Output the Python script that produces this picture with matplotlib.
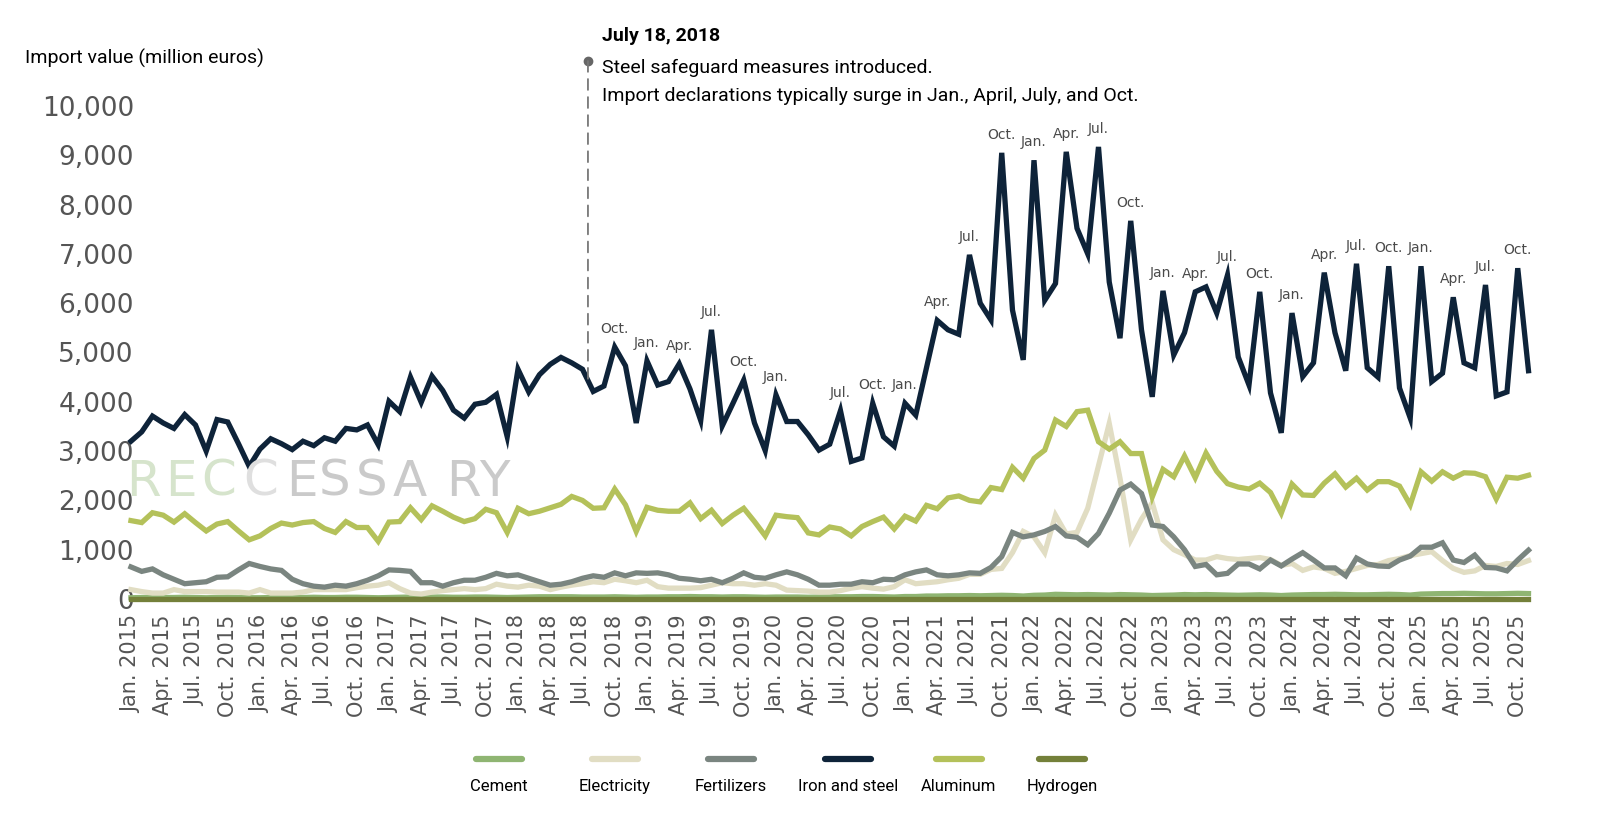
import numpy as np
import pandas as pd
import matplotlib
matplotlib.use("Agg")
import matplotlib.pyplot as plt
from matplotlib.lines import Line2D
from matplotlib.transforms import blended_transform_factory

W, H = 1600, 821

# monthly import values, million euros, Jan. 2015 - Nov. 2025
months = pd.date_range("2015-01-01", "2025-11-01", freq="MS")

iron_steel = [
    3200, 3390, 3710, 3570, 3460, 3740, 3530, 3000, 3640, 3590, 3150, 2690,
    3040, 3250, 3150, 3030, 3200, 3110, 3270, 3200, 3460, 3430, 3530, 3130,
    4010, 3800, 4500, 3990, 4520, 4230, 3830, 3670, 3950, 3990, 4150, 3290,
    4660, 4200, 4550, 4760, 4900, 4790, 4660, 4210, 4320, 5110, 4730, 3570,
    4830, 4340, 4410, 4770, 4260, 3620, 5460, 3510, 3970, 4440, 3570, 3010,
    4140, 3600, 3600, 3330, 3020, 3140, 3820, 2790, 2860, 3970, 3290, 3100,
    3970, 3730, 4690, 5650, 5460, 5370, 6980, 6000, 5660, 9050, 5860, 4850,
    8900, 6060, 6400, 9070, 7520, 7000, 9170, 6430, 5290, 7670, 5460, 4100,
    6250, 4950, 5400, 6230, 6330, 5800, 6570, 4910, 4340, 6230, 4180, 3370,
    5800, 4510, 4790, 6620, 5400, 4630, 6800, 4690, 4500, 6750, 4280, 3670,
    6750, 4410, 4580, 6120, 4790, 4690, 6370, 4120, 4200, 6710, 4630,
]

aluminum = [
    1590, 1550, 1750, 1700, 1560, 1730, 1550, 1380, 1520, 1570, 1380, 1200,
    1280, 1430, 1540, 1500, 1550, 1570, 1430, 1350, 1570, 1450, 1450, 1170,
    1560, 1570, 1850, 1610, 1890, 1780, 1660, 1570, 1630, 1820, 1750, 1350,
    1840, 1730, 1780, 1850, 1920, 2080, 2000, 1840, 1850, 2230, 1910, 1370,
    1860, 1800, 1780, 1780, 1950, 1630, 1800, 1530, 1700, 1840, 1570, 1280,
    1700, 1670, 1650, 1340, 1300, 1460, 1420, 1280, 1470, 1570, 1660, 1420,
    1680, 1580, 1900, 1830, 2050, 2090, 2000, 1970, 2260, 2220, 2670, 2450,
    2850, 3020, 3630, 3500, 3800, 3830, 3190, 3040, 3190, 2950, 2950, 2070,
    2630, 2480, 2900, 2460, 2960, 2590, 2340, 2270, 2230, 2350, 2160, 1740,
    2330, 2110, 2100, 2350, 2540, 2270, 2450, 2210, 2380, 2380, 2290, 1910,
    2580, 2390, 2580, 2450, 2560, 2550, 2480, 2030, 2470, 2450, 2510,
]

fertilizers = [
    650, 560, 610, 490, 400, 310, 330, 350, 440, 450, 590, 720,
    660, 610, 580, 400, 310, 260, 240, 280, 260, 310, 380, 470,
    590, 580, 560, 330, 330, 260, 330, 380, 380, 440, 520, 470,
    490, 420, 350, 280, 300, 350, 420, 470, 440, 530, 470, 530,
    520, 530, 490, 420, 400, 370, 400, 330, 420, 530, 440, 420,
    490, 550, 490, 400, 280, 280, 300, 300, 350, 330, 400, 390,
    490, 550, 590, 490, 470, 490, 530, 520, 640, 860, 1350, 1260,
    1300, 1370, 1470, 1280, 1250, 1100, 1330, 1740, 2210, 2330, 2140, 1500,
    1470, 1260, 1000, 660, 700, 490, 520, 710, 710, 610, 790, 670,
    810, 940, 790, 630, 630, 470, 830, 710, 670, 660, 790, 870,
    1050, 1050, 1140, 790, 740, 890, 640, 630, 570, 790, 990,
]

electricity = [
    190, 150, 120, 120, 190, 150, 150, 150, 140, 140, 140, 120,
    190, 120, 120, 120, 140, 190, 190, 190, 190, 230, 260, 280,
    330, 210, 120, 100, 140, 170, 190, 210, 190, 210, 300, 260,
    240, 280, 260, 190, 240, 280, 310, 350, 330, 400, 370, 330,
    380, 250, 220, 220, 220, 230, 280, 330, 310, 310, 280, 310,
    280, 180, 170, 160, 140, 140, 170, 220, 250, 220, 200, 250,
    390, 310, 330, 350, 390, 420, 500, 500, 600, 620, 940, 1370,
    1260, 940, 1700, 1320, 1350, 1840, 2700, 3560, 2450, 1200, 1620, 1950,
    1200, 1000, 900, 790, 790, 860, 820, 800, 820, 840, 800, 680,
    720, 580, 650, 620, 520, 560, 620, 680, 700, 780, 820, 880,
    920, 960, 780, 620, 540, 570, 680, 660, 720, 700, 780,
]

cement = [
    25, 30, 35, 30, 30, 35, 30, 25, 30, 35, 30, 25,
    25, 30, 35, 35, 30, 35, 30, 30, 35, 35, 30, 25,
    30, 35, 40, 35, 40, 40, 35, 35, 40, 40, 35, 30,
    35, 40, 45, 45, 45, 45, 40, 40, 40, 45, 40, 35,
    40, 40, 45, 45, 50, 45, 45, 40, 45, 45, 40, 35,
    40, 40, 40, 35, 40, 45, 45, 45, 50, 50, 45, 40,
    50, 50, 60, 60, 65, 65, 70, 65, 70, 75, 70, 60,
    75, 80, 95, 90, 85, 90, 85, 80, 90, 85, 80, 70,
    75, 80, 90, 85, 90, 85, 80, 75, 80, 85, 80, 70,
    80, 85, 90, 90, 95, 90, 85, 85, 90, 95, 90, 80,
    100, 105, 110, 110, 115, 110, 105, 105, 110, 115, 110,
]

hydrogen = [
    0, 0, 0, 0, 0, 0, 0, 0, 0, 0, 0, 0,
    0, 0, 0, 0, 0, 0, 0, 0, 0, 0, 0, 0,
    0, 0, 0, 0, 0, 0, 0, 0, 0, 0, 0, 0,
    0, 0, 0, 0, 0, 0, 0, 0, 0, 0, 0, 0,
    0, 0, 0, 0, 0, 0, 0, 0, 0, 0, 0, 0,
    0, 0, 0, 0, 0, 0, 0, 0, 0, 0, 0, 0,
    0, 0, 0, 0, 0, 0, 0, 0, 0, 0, 0, 0,
    0, 0, 0, 0, 0, 0, 0, 0, 0, 0, 0, 0,
    0, 0, 0, 0, 0, 0, 0, 0, 0, 0, 0, 0,
    0, 0, 0, 0, 0, 0, 0, 0, 0, 0, 0, 0,
    0, 0, 0, 0, 0, 0, 0, 0, 0, 0, 0,
]

# iron & steel surge months that get a label
peak_months = [
    "2018-10", "2019-01", "2019-04", "2019-07", "2019-10", "2020-01",
    "2020-07", "2020-10", "2021-01", "2021-04", "2021-07", "2021-10",
    "2022-01", "2022-04", "2022-07", "2022-10", "2023-01", "2023-04",
    "2023-07", "2023-10", "2024-01", "2024-04", "2024-07", "2024-10",
    "2025-01", "2025-04", "2025-07", "2025-10",
]
month_abbr = {1: "Jan.", 4: "Apr.", 7: "Jul.", 10: "Oct."}

safeguard_date = pd.Timestamp("2018-07-18")

series = [
    ("Cement", cement, "#8fb572"),
    ("Electricity", electricity, "#e1ddc3"),
    ("Fertilizers", fertilizers, "#7a8580"),
    ("Iron and steel", iron_steel, "#0e2339"),
    ("Aluminum", aluminum, "#b4c15a"),
    ("Hydrogen", hydrogen, "#74803a"),
]

fig = plt.figure(figsize=(W / 100, H / 100), dpi=100)
ax = fig.add_axes([120 / W, 1 - 605 / H, 1420 / W, (605 - 98.6) / H])

x = np.arange(len(months))
for name, vals, col in series:
    ax.plot(x, vals, color=col, lw=3.8, solid_joinstyle="miter", zorder=3)

ax.set_xlim(-1.02, 131.07)
ax.set_ylim(-122, 10150)

for s in ax.spines.values():
    s.set_visible(False)

yt = np.arange(0, 10001, 1000)
ax.set_yticks(yt)
ax.set_yticklabels([f"{v:,}" for v in yt], fontsize=19, color="#555555")
ax.tick_params(axis="y", length=0, pad=-10)

tick_idx = [i for i, d in enumerate(months) if d.month in month_abbr]
ax.set_xticks(tick_idx)
ax.set_xticklabels([f"{month_abbr[months[i].month]} {months[i].year}" for i in tick_idx],
                   rotation=90, fontsize=15, color="#555555")
ax.tick_params(axis="x", length=0, pad=7)

# labels above the surge peaks
for m in peak_months:
    i = months.get_loc(pd.Timestamp(m + "-01"))
    ax.annotate(month_abbr[months[i].month], (i, iron_steel[i]), xytext=(0, 8),
                textcoords="offset points", ha="center", va="bottom",
                fontsize=10, color="#4a4a4a", zorder=5)

# safeguard marker
xs = (safeguard_date - months[0]).days / 30.44
ys = np.interp(xs, x, iron_steel)
ax.annotate("", xy=(xs, ys), xycoords="data", xytext=(xs, 1 - 61 / H),
            textcoords=("data", "figure fraction"),
            arrowprops=dict(arrowstyle="-", color="#777777", lw=1.3,
                            linestyle=(0, (6, 4)), shrinkA=0, shrinkB=0))
trans = blended_transform_factory(ax.transData, fig.transFigure)
ax.plot([xs], [1 - 61 / H], marker="o", ms=6, color="#666666",
        transform=trans, clip_on=False)

fig.text(602 / W, 1 - 36 / H, "July 18, 2018", fontsize=14, fontweight="bold",
         family="Roboto", va="center", ha="left")
fig.text(602 / W, 1 - 68 / H, "Steel safeguard measures introduced.", fontsize=14,
         family="Roboto", va="center", ha="left")
fig.text(602 / W, 1 - 96 / H,
         "Import declarations typically surge in Jan., April, July, and Oct.",
         fontsize=14, family="Roboto", va="center", ha="left")
fig.text(25 / W, 1 - 58 / H, "Import value (million euros)", fontsize=14,
         family="Roboto", va="center", ha="left")

# watermark
wm_letters = list("RECCESSARY")
wm_x = [126, 165, 201, 243, 286, 319, 356, 393, 446, 479]
wm_col = ["#d6e4cc"] * 3 + ["#dfdfdf"] + ["#cacaca"] * 6
for ch, px, c in zip(wm_letters, wm_x, wm_col):
    fig.text(px / W, 1 - 482 / H, ch, fontsize=36, color=c, va="center",
             ha="left", zorder=0)

# legend: line on top, label underneath
leg_x = [499, 615, 731, 848, 959, 1062]
for (name, vals, col), px in zip(series, leg_x):
    fig.add_artist(Line2D([(px - 23) / W, (px + 23) / W], [1 - 759 / H] * 2,
                          color=col, lw=4.5, solid_capstyle="round"))
    fig.text(px / W, 1 - 786 / H, name, fontsize=12, family="Roboto",
             ha="center", va="center")

fig.savefig("out.png", dpi=100, facecolor="white")
